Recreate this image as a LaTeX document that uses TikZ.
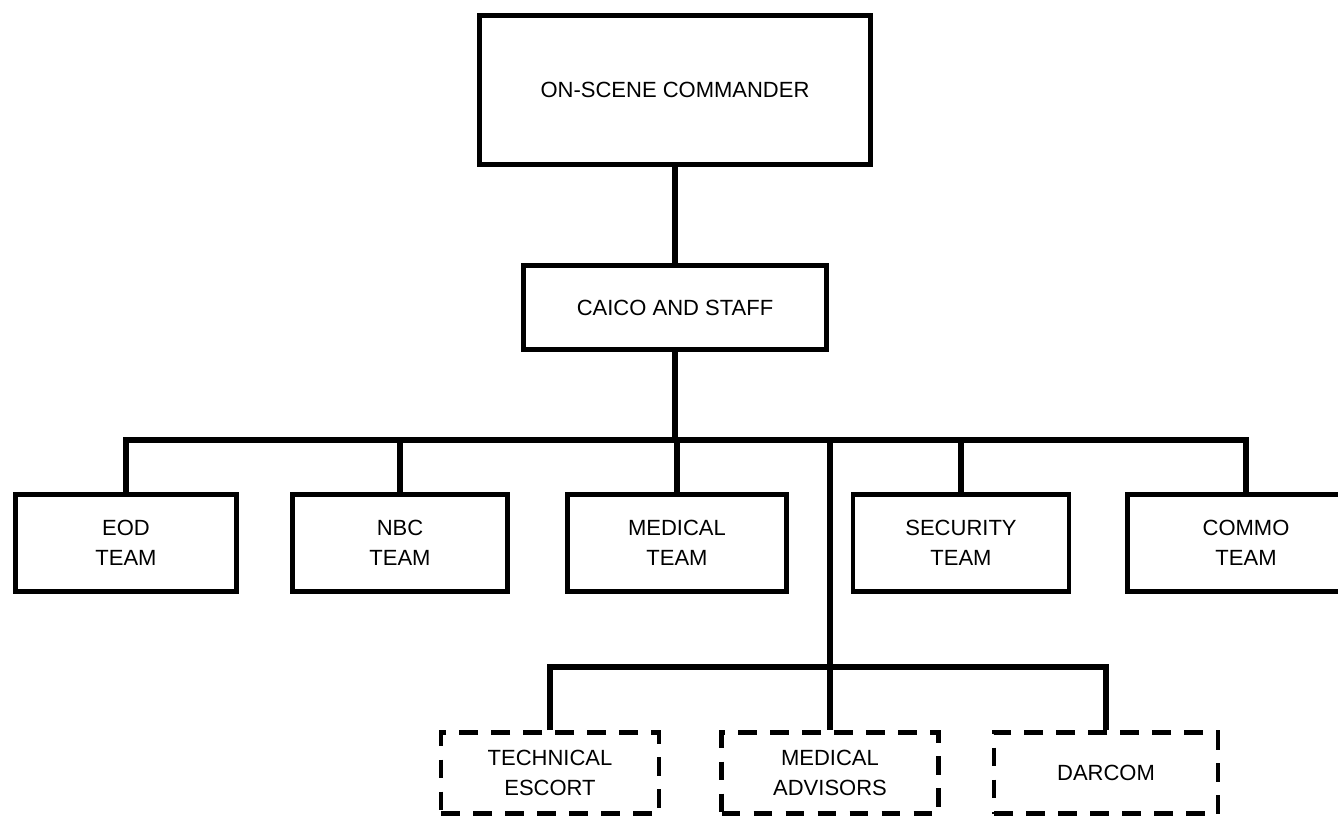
\documentclass[tikz,border=0pt]{standalone}
\usepackage{fontspec}
\setmainfont{Liberation Sans}
\begin{document}
\begin{tikzpicture}[x=0.75pt,y=-0.75pt,
  line width=3.6pt,
  box/.style={draw, line width=3.6pt, align=center, inner sep=0pt,
    font=\fontsize{16.5}{22.5}\selectfont},
  dbox/.style={box, dash pattern=on 14pt off 10pt},
  teambox/.style={box, minimum height=72.75pt},
  advbox/.style={dbox, minimum height=60.75pt},
  link/.style={draw, line width=3.8pt}]
\useasboundingbox (0,0) rectangle (1338,821);
\clip (0,0) rectangle (1338,821);
\fill[white] (0,0) rectangle (1338,821);
% top
\node[box, minimum width=293.25pt, minimum height=111.75pt] (osc) at (675,90) {\raisebox{-5pt}{ON-SCENE COMMANDER}};
\node[box, minimum width=227.25pt, minimum height=63pt] (caico) at (675,307.5) {CAICO AND STAFF};
% teams
\node[teambox, minimum width=165.75pt] (eod) at (126,543) {EOD\\TEAM};
\node[teambox, minimum width=161.25pt] (nbc) at (400,543) {NBC\\TEAM};
\node[teambox, minimum width=164.25pt] (med) at (677,543) {MEDICAL\\TEAM};
\node[teambox, minimum width=162pt] (sec) at (961,543) {SECURITY\\TEAM};
\node[teambox, minimum width=177.75pt] (com) at (1246,543) {COMMO\\TEAM};
% advisors
\node[advbox, minimum width=163.5pt] (tech) at (550,773) {TECHNICAL\\ESCORT};
\node[advbox, minimum width=162.75pt] (mad) at (830,773) {MEDICAL\\ADVISORS};
\node[advbox, minimum width=168pt] (darc) at (1106,773) {DARCOM};
% junctions
\coordinate (bus) at (675,440);
\coordinate (busj) at (830,440);
\coordinate (lbus) at (830,667);
% connectors
\path[link] (osc.south) -- (caico.north);
\path[link] (caico.south) -- (bus);
\path[link] (eod.north) |- (bus) -| (com.north);
\path[link] (nbc.north) |- (bus);
\path[link] (med.north) |- (bus);
\path[link] (sec.north) |- (bus);
\path[link] (busj) -- (mad.north);
\path[link] (tech.north) |- (lbus) -| (darc.north);
\end{tikzpicture}
\end{document}
